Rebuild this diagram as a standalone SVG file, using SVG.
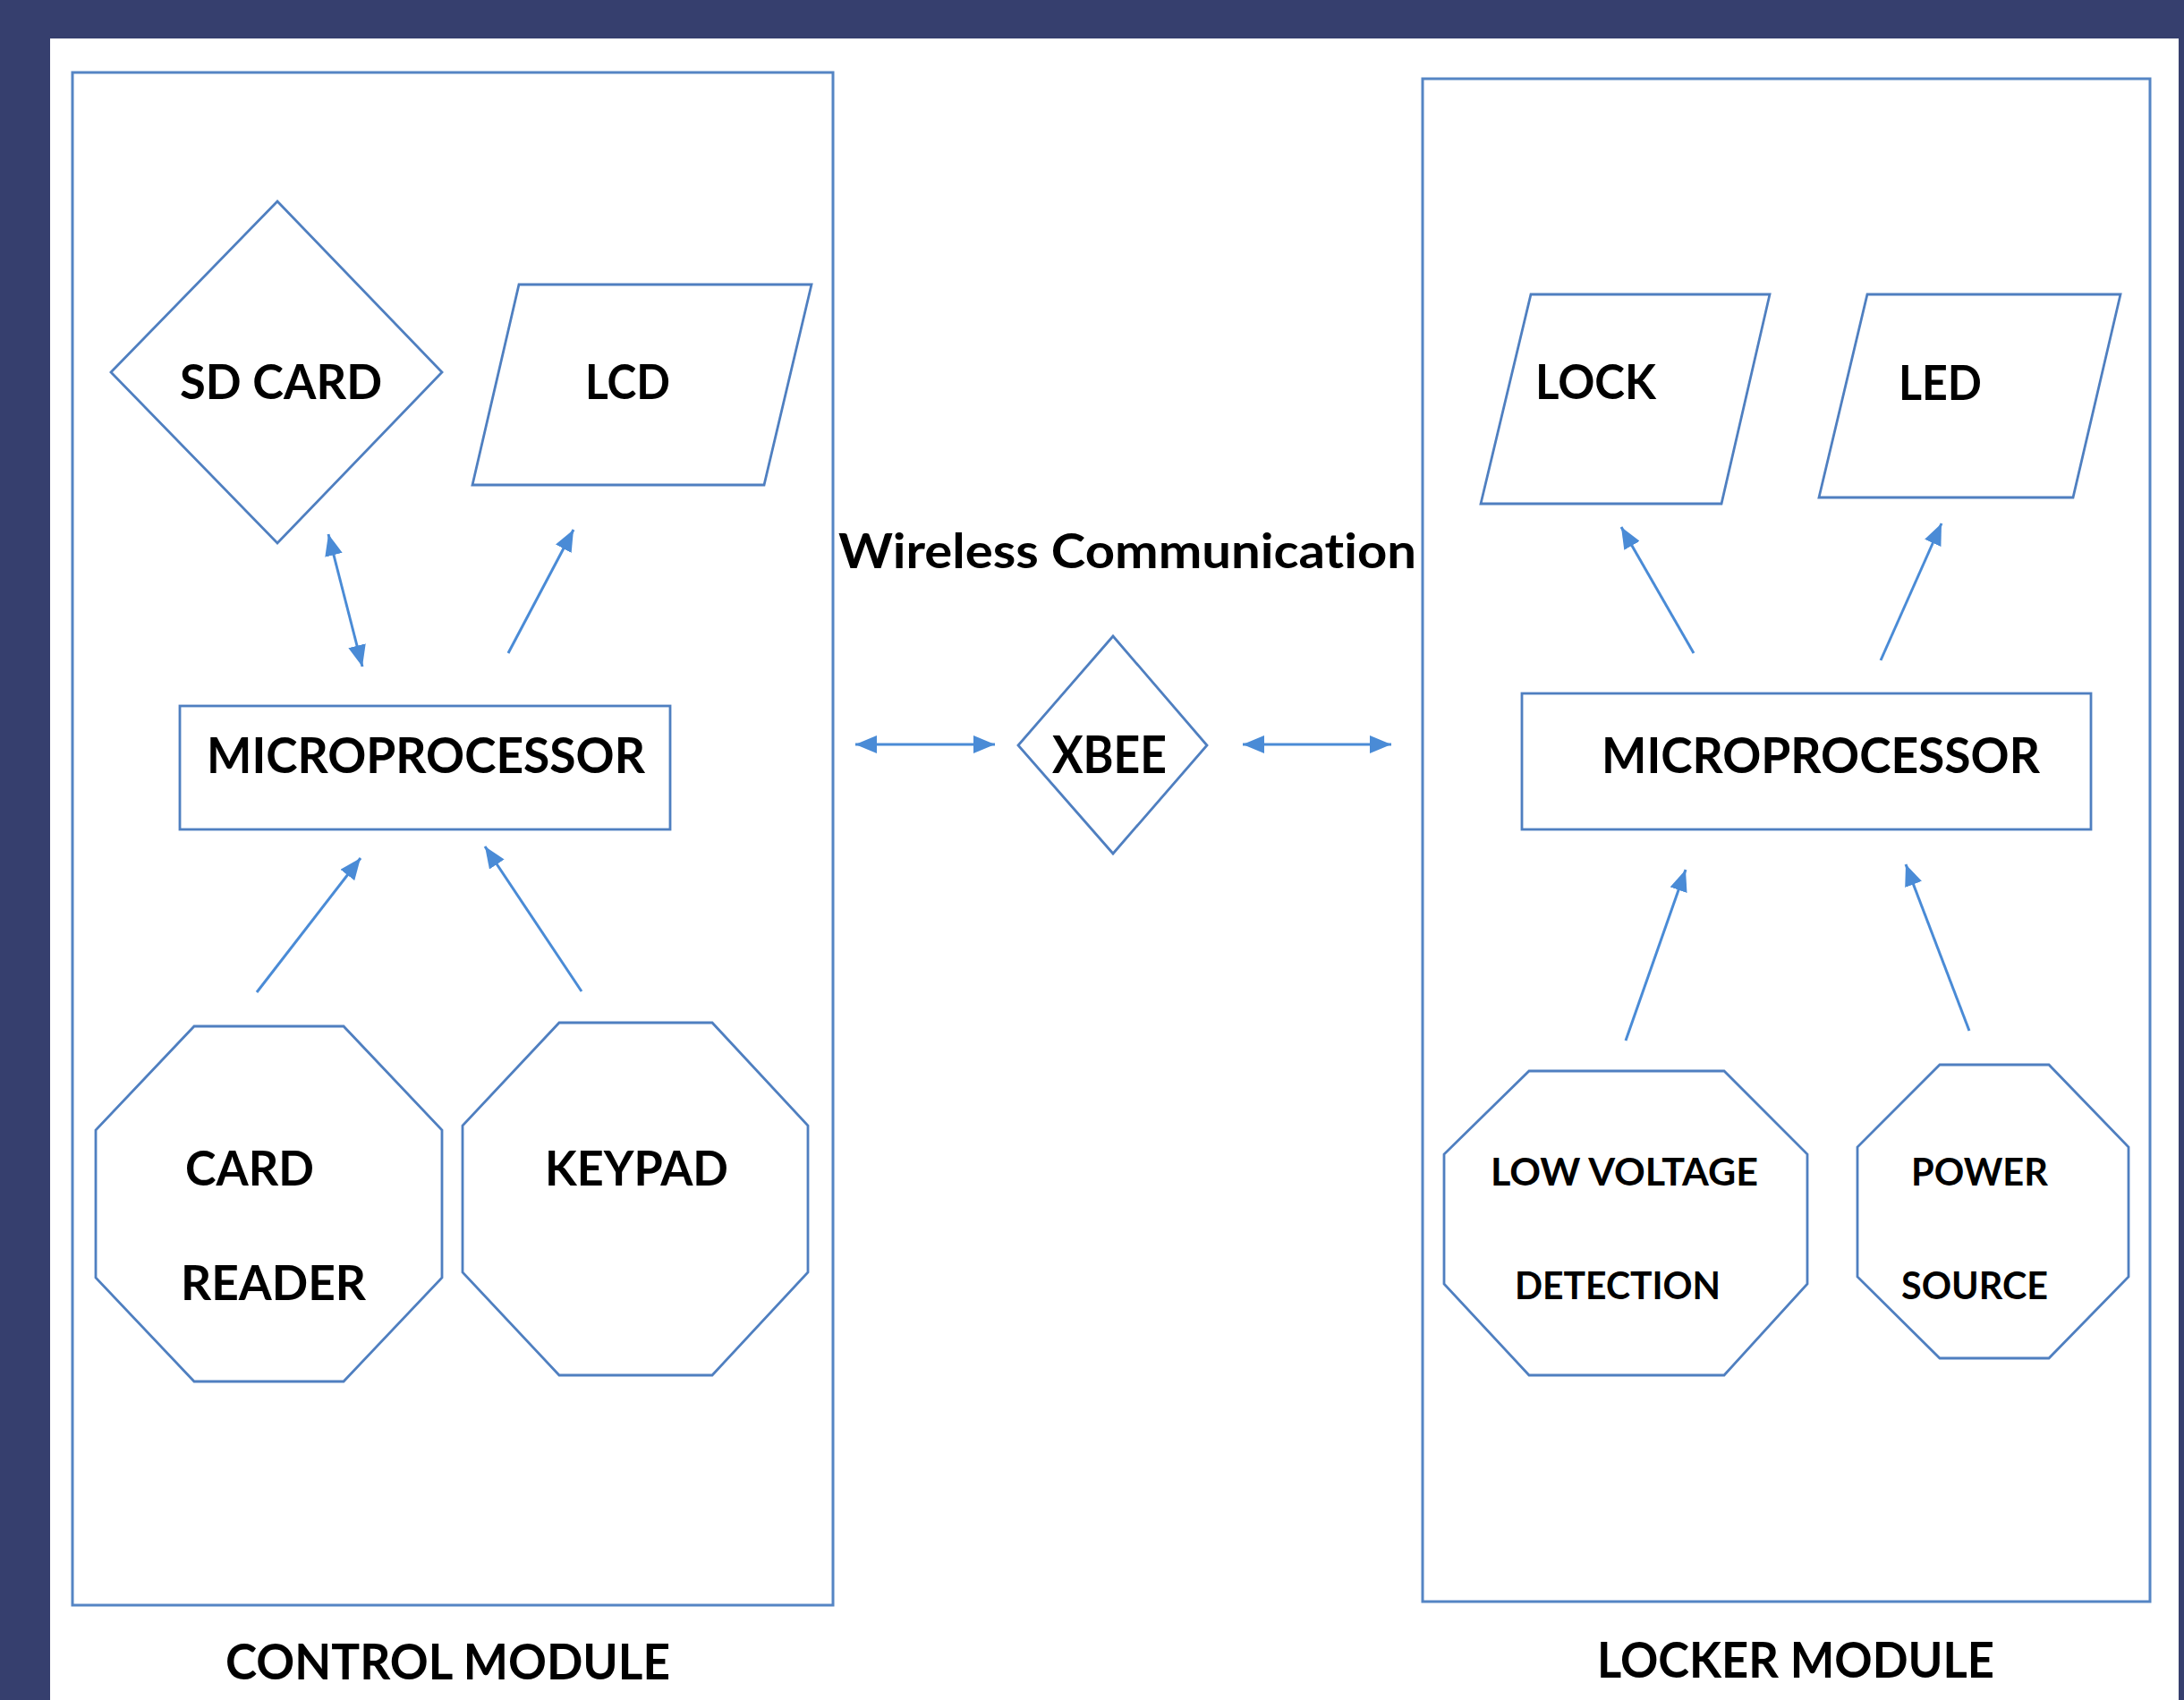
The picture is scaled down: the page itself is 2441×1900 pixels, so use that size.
<svg xmlns="http://www.w3.org/2000/svg" width="2441" height="1900" viewBox="0 0 2441 1900">
<style>
.shape{fill:#ffffff;stroke:#4f7fc0;stroke-width:2.8}
.frame{fill:none;stroke:#5585c4;stroke-width:3}
.lbl{font-family:Lato,"Open Sans","Liberation Sans",sans-serif;font-weight:bold;fill:#000000;font-variant-ligatures:none;font-feature-settings:"liga" 0,"clig" 0}
.conn{stroke:#4a8bd6;stroke-width:3;fill:none}
</style>
<defs>
<marker id="ah" viewBox="0 0 24 20" refX="24" refY="10" markerWidth="24" markerHeight="20" markerUnits="userSpaceOnUse" orient="auto-start-reverse">
<path d="M0,0 L24,10 L0,20 Z" fill="#4a8bd6"/>
</marker>
</defs>
<rect x="0" y="0" width="2441" height="1900" fill="#363f6e"/>
<rect x="56" y="43" width="2379" height="1857" fill="#ffffff"/>

<g id="control-module">
<rect class="frame" x="81" y="81" width="850" height="1713"/>
<text class="lbl" x="252" y="1877" font-size="55" textLength="497" lengthAdjust="spacingAndGlyphs">CONTROL MODULE</text>
</g>
<g id="locker-module">
<rect class="frame" x="1590" y="88" width="813" height="1702"/>
<text class="lbl" x="1785" y="1875" font-size="55" textLength="444" lengthAdjust="spacingAndGlyphs">LOCKER MODULE</text>
</g>

<g id="sd-card">
<polygon class="shape" points="310,225 494,416 310,607 124,416"/>
<text class="lbl" x="201" y="446" font-size="53" textLength="226" lengthAdjust="spacingAndGlyphs">SD CARD</text>
</g>
<g id="lcd">
<polygon class="shape" points="580,318 907,318 854,542 528,542"/>
<text class="lbl" x="654" y="446" font-size="53" textLength="95" lengthAdjust="spacingAndGlyphs">LCD</text>
</g>
<g id="microprocessor-left">
<rect class="shape" x="201" y="789" width="548" height="138"/>
<text class="lbl" x="231" y="864" font-size="55" textLength="490" lengthAdjust="spacingAndGlyphs">MICROPROCESSOR</text>
</g>
<g id="card-reader">
<polygon class="shape" points="217,1147 384,1147 494,1263 494,1428 384,1544 217,1544 107,1428 107,1263"/>
<text class="lbl" x="207" y="1325" font-size="53" textLength="144" lengthAdjust="spacingAndGlyphs">CARD</text>
<text class="lbl" x="202" y="1453" font-size="53" textLength="207" lengthAdjust="spacingAndGlyphs">READER</text>
</g>
<g id="keypad">
<polygon class="shape" points="625,1143 796,1143 903,1258 903,1422 796,1537 625,1537 517,1422 517,1258"/>
<text class="lbl" x="609" y="1325" font-size="53" textLength="205" lengthAdjust="spacingAndGlyphs">KEYPAD</text>
</g>

<g id="wireless-label">
<text class="lbl" x="937" y="635" font-size="54" textLength="646" lengthAdjust="spacingAndGlyphs">Wireless Communication</text>
</g>
<g id="xbee">
<polygon class="shape" points="1244,711 1349,833 1244,954 1138,833"/>
<text class="lbl" x="1176" y="864" font-size="57" textLength="128" lengthAdjust="spacingAndGlyphs">XBEE</text>
</g>

<g id="lock">
<polygon class="shape" points="1711,329 1978,329 1924,563 1655,563"/>
<text class="lbl" x="1716" y="446" font-size="53" textLength="135" lengthAdjust="spacingAndGlyphs">LOCK</text>
</g>
<g id="led">
<polygon class="shape" points="2087,329 2370,329 2317,556 2033,556"/>
<text class="lbl" x="2122" y="447" font-size="53" textLength="93" lengthAdjust="spacingAndGlyphs">LED</text>
</g>
<g id="microprocessor-right">
<rect class="shape" x="1701" y="775" width="636" height="152"/>
<text class="lbl" x="1790" y="864" font-size="55" textLength="490" lengthAdjust="spacingAndGlyphs">MICROPROCESSOR</text>
</g>
<g id="low-voltage-detection">
<polygon class="shape" points="1709,1197 1927,1197 2020,1290 2020,1435 1927,1537 1709,1537 1614,1435 1614,1290"/>
<text class="lbl" x="1666" y="1325" font-size="42" textLength="299" lengthAdjust="spacingAndGlyphs">LOW VOLTAGE</text>
<text class="lbl" x="1693" y="1452" font-size="42" textLength="230" lengthAdjust="spacingAndGlyphs">DETECTION</text>
</g>
<g id="power-source">
<polygon class="shape" points="2168,1190 2290,1190 2379,1282 2379,1427 2290,1518 2168,1518 2076,1427 2076,1282"/>
<text class="lbl" x="2136" y="1325" font-size="42" textLength="153" lengthAdjust="spacingAndGlyphs">POWER</text>
<text class="lbl" x="2125" y="1452" font-size="42" textLength="164" lengthAdjust="spacingAndGlyphs">SOURCE</text>
</g>

<g id="connectors">
<line class="conn" x1="367" y1="597" x2="405" y2="745" marker-start="url(#ah)" marker-end="url(#ah)"/>
<line class="conn" x1="568" y1="730" x2="641" y2="592" marker-end="url(#ah)"/>
<line class="conn" x1="287" y1="1109" x2="403" y2="959" marker-end="url(#ah)"/>
<line class="conn" x1="650" y1="1108" x2="542" y2="946" marker-end="url(#ah)"/>
<line class="conn" x1="956" y1="832" x2="1112" y2="832" marker-start="url(#ah)" marker-end="url(#ah)"/>
<line class="conn" x1="1389" y1="832" x2="1555" y2="832" marker-start="url(#ah)" marker-end="url(#ah)"/>
<line class="conn" x1="1893" y1="730" x2="1812" y2="589" marker-end="url(#ah)"/>
<line class="conn" x1="2102" y1="738" x2="2170" y2="585" marker-end="url(#ah)"/>
<line class="conn" x1="1817" y1="1163" x2="1884" y2="972" marker-end="url(#ah)"/>
<line class="conn" x1="2201" y1="1152" x2="2130" y2="966" marker-end="url(#ah)"/>
</g>
</svg>
